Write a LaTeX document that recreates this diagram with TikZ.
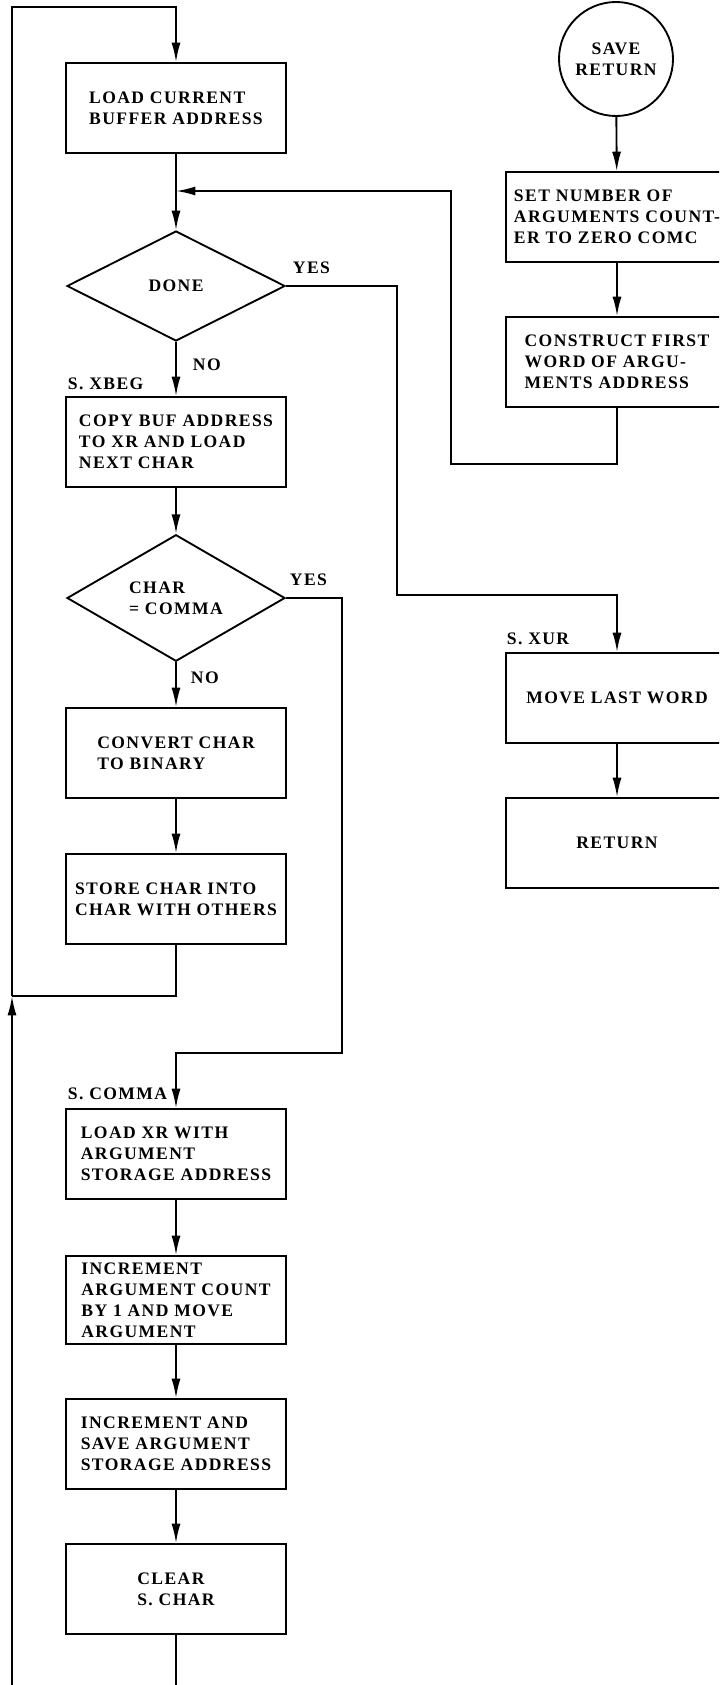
\documentclass[tikz,border=0pt]{standalone}
\usepackage{fontspec}
\setmainfont{Liberation Serif}[LetterSpace=8]
\usetikzlibrary{shapes.geometric,arrows.meta}
\newcommand{\chartfont}{\fontsize{15}{18}\selectfont\bfseries}

\begin{document}
\begin{tikzpicture}[x=0.03cm, y=-0.03cm, line width=1.6pt,
    >={Latex[length=5.8mm,width=2.7mm]},
    every node/.style={font=\chartfont},
    box/.style={draw, rectangle, minimum width=6.6cm, minimum height=2.7cm, align=left, inner sep=0pt},
    test/.style={draw, diamond, minimum width=6.54cm, minimum height=3.3cm, align=left, inner sep=0pt},
    tag/.style={inner sep=0pt, anchor=base west}]
  \clip (0,0) rectangle (719,1685);
  % main column
  \node[box] (load) at (176,108) {LOAD CURRENT\\BUFFER ADDRESS};
  \node[test] (done) at (176,286) {DONE};
  \node[box] (copybuf) at (176,442) {COPY BUF ADDRESS\\TO XR AND LOAD\\NEXT CHAR};
  \node[test] (comma) at (176,598) {CHAR\\= COMMA};
  \node[box] (convert) at (176,753) {CONVERT CHAR\\TO BINARY};
  \node[box] (store) at (176,899) {STORE CHAR INTO\\CHAR WITH OTHERS};
  \node[box] (ldxr) at (176,1154) {LOAD XR WITH\\ARGUMENT\\STORAGE ADDRESS};
  \node[box, minimum height=2.64cm] (incarg) at (176,1300) {INCREMENT\\ARGUMENT COUNT\\BY 1 AND MOVE\\ARGUMENT};
  \node[box] (incsave) at (176,1444) {INCREMENT AND\\SAVE ARGUMENT\\STORAGE ADDRESS};
  \node[box] (clear) at (176,1589) {CLEAR\\S. CHAR};
  % entry column
  \node[draw, circle, minimum size=3.42cm, align=center, inner sep=0pt] (save) at (616,59) {SAVE\\RETURN};
  \node[box, minimum width=6.66cm] (setnum) at (617,217) {SET NUMBER OF\\ARGUMENTS COUNT-\\ER TO ZERO COMC};
  \node[box, minimum width=6.66cm] (construct) at (617,362) {CONSTRUCT FIRST\\WORD OF ARGU-\\MENTS ADDRESS};
  \node[box, minimum width=6.66cm] (movelast) at (617,698) {MOVE LAST WORD};
  \node[box, minimum width=6.66cm] (ret) at (617,843) {RETURN};
  % labels
  \node[tag] (yesdone) at (292,273) {YES};
  \node[tag] (nodone) at (192,370) {NO};
  \node[tag] (xbeg) at (67,389) {S. XBEG};
  \node[tag] (yescomma) at (289,585) {YES};
  \node[tag] (nocomma) at (190,683) {NO};
  \node[tag] (scomma) at (67,1099) {S. COMMA};
  \node[tag] (xur) at (506,644) {S. XUR};
  % bends and loose ends
  \coordinate (merge) at (176,191);
  \coordinate (loopj) at (12,996);
  \coordinate (looptop) at (176,7);
  \coordinate (loopin) at (12,1685);
  \coordinate (clearout) at (176,1685);
  % connectors
  \draw[->] (save) -- (setnum);
  \draw[->] (setnum) -- (construct);
  \draw[->] (construct.south) -- ++(0,56) -| (451,191) -- (merge);
  \draw[->] (load) -- (done);
  \draw[->] (done.east) -| (397,595) -| (movelast.north);
  \draw[->] (movelast) -- (ret);
  \draw[->] (done) -- (copybuf);
  \draw[->] (copybuf) -- (comma);
  \draw[->] (comma.east) -| (342,1053) -| (ldxr.north);
  \draw[->] (comma) -- (convert);
  \draw[->] (convert) -- (store);
  \draw (store.south) |- (loopj);
  \draw[->] (loopin) -- (loopj);
  \draw[->] (loopj) |- (looptop) -- (load.north);
  \draw[->] (ldxr) -- (incarg);
  \draw[->] (incarg) -- (incsave);
  \draw[->] (incsave) -- (clear);
  \draw (clear) -- (clearout);
\end{tikzpicture}
\end{document}
